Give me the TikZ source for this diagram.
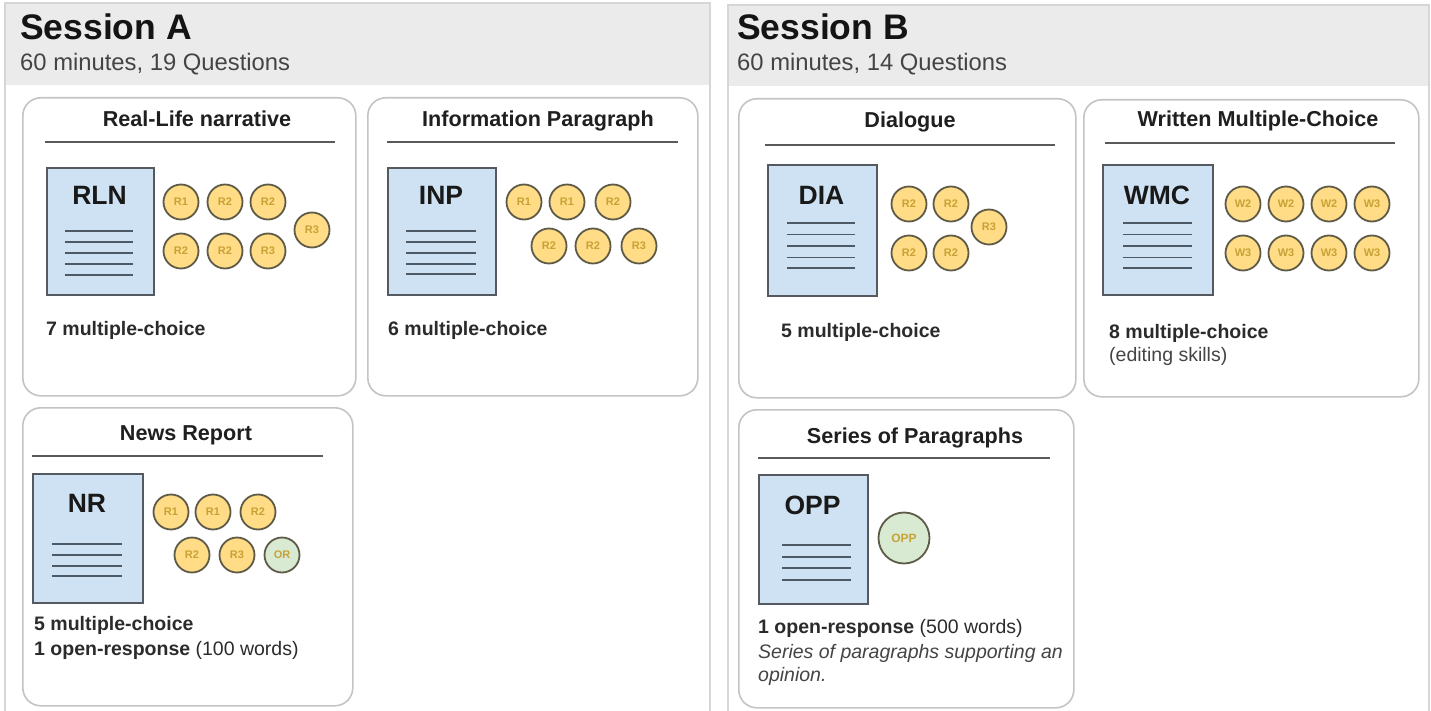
\documentclass[tikz,border=0pt]{standalone}
\usepackage{fontspec}
\setmainfont{Liberation Sans}
\definecolor{panelborder}{HTML}{D6D6D6}
\definecolor{panelhead}{HTML}{EBEBEB}
\definecolor{cardborder}{HTML}{C4C4C4}
\definecolor{docblue}{HTML}{CFE2F3}
\definecolor{docedge}{HTML}{555A60}
\definecolor{docline}{HTML}{4E5966}
\definecolor{qyellow}{HTML}{FFDC85}
\definecolor{qedge}{HTML}{5E5A48}
\definecolor{qtext}{HTML}{C9A235}
\definecolor{qgreen}{HTML}{D9EAD3}
\definecolor{bodytext}{HTML}{2B2B2B}
\definecolor{softtext}{HTML}{444444}
\definecolor{ruleline}{HTML}{5A5A5A}
\begin{document}
\begin{tikzpicture}[x=1pt,y=-1pt,
  panelbox/.style={draw=panelborder,line width=1.5pt,fill=white},
  headband/.style={fill=panelhead,draw=none},
  sesstitle/.style={anchor=base west,inner sep=0,font=\bfseries\fontsize{35.5}{40}\selectfont,text=black!92},
  sesssub/.style={anchor=base west,inner sep=0,font=\fontsize{23.8}{26}\selectfont,text=softtext},
  cardbox/.style={draw=cardborder,line width=1.6pt,rounded corners=18pt,fill=white,anchor=north west,inner sep=0},
  cardtitle/.style={anchor=base,inner sep=0,font=\bfseries\fontsize{21.6}{24}\selectfont,text=black!88},
  titlerule/.style={draw=ruleline,line width=1.8pt},
  docbox/.style={draw=docedge,fill=docblue,line width=1.9pt,anchor=north west,inner sep=0},
  doclabel/.style={anchor=base,inner sep=0,font=\bfseries\fontsize{26.5}{30}\selectfont,text=black!90},
  docrule/.style={draw=docline,line width=1.9pt},
  qc/.style={circle,draw=qedge,fill=qyellow,line width=1.8pt,minimum size=35pt,inner sep=0,font=\bfseries\fontsize{11}{12}\selectfont,text=qtext},
  qg/.style={qc,fill=qgreen},
  bodyline/.style={anchor=base west,inner sep=0,font=\fontsize{19.5}{22}\selectfont,text=bodytext}
]
\useasboundingbox (0,0) rectangle (1431,711);
% ---------- Panels ----------
\draw[panelbox] (5,730) -- (5,3) -- (710,3) -- (710,730);
\fill[headband] (5.75,3.75) rectangle (709.25,85);
\draw[panelbox] (728,730) -- (728,5) -- (1429,5) -- (1429,730);
\fill[headband] (728.75,5.75) rectangle (1428.25,86);
\node[sesstitle] (sa) at (20,40) {Session A};
\node[sesssub] (sasub) at (20,71) {60 minutes, 19 Questions};
\node[sesstitle] (sb) at (737,40) {Session B};
\node[sesssub] (sbsub) at (737,71) {60 minutes, 14 Questions};

% ---------- Card RLN ----------
\node[cardbox,minimum width=333pt,minimum height=298pt] (cRLN) at (22,97) {};
\node[cardtitle] (tRLN) at (197,127) {Real-Life narrative};
\draw[titlerule] (45,142) -- (335,142);
\node[docbox,minimum width=107pt,minimum height=127pt] (dRLN) at (46,167) {};
\node[doclabel] (lRLN) at (99.5,205) {RLN};
\foreach \yy in {231,242,253,264,275} \draw[docrule] (65,\yy) -- (133,\yy);
\node[qc] (rln1) at (181,202) {R1};
\node[qc] (rln2) at (225,202) {R2};
\node[qc] (rln3) at (268,202) {R2};
\node[qc] (rln4) at (181,251) {R2};
\node[qc] (rln5) at (225,251) {R2};
\node[qc] (rln6) at (268,251) {R3};
\node[qc] (rln7) at (312,230) {R3};
\node[bodyline] (bRLN) at (46,335) {\textbf{7 multiple-choice}};

% ---------- Card INP ----------
\node[cardbox,minimum width=330pt,minimum height=298pt] (cINP) at (367,97) {};
\node[cardtitle] (tINP) at (538,127) {Information Paragraph};
\draw[titlerule] (387,142) -- (678,142);
\node[docbox,minimum width=108pt,minimum height=127pt] (dINP) at (387,167) {};
\node[doclabel] (lINP) at (441,205) {INP};
\foreach \yy in {231,242,253,264,274} \draw[docrule] (406,\yy) -- (476,\yy);
\node[qc] (inp1) at (524,202) {R1};
\node[qc] (inp2) at (567,202) {R1};
\node[qc] (inp3) at (613,202) {R2};
\node[qc] (inp4) at (549,246) {R2};
\node[qc] (inp5) at (593,246) {R2};
\node[qc] (inp6) at (639,246) {R3};
\node[bodyline] (bINP) at (388,335) {\textbf{6 multiple-choice}};

% ---------- Card NR ----------
\node[cardbox,minimum width=330pt,minimum height=298pt] (cNR) at (22,407) {};
\node[cardtitle] (tNR) at (186,440) {News Report};
\draw[titlerule] (32,456) -- (323,456);
\node[docbox,minimum width=110pt,minimum height=129pt] (dNR) at (32,473) {};
\node[doclabel] (lNR) at (87,512) {NR};
\foreach \yy in {544,555,566,576} \draw[docrule] (52,\yy) -- (122,\yy);
\node[qc] (nr1) at (171,512) {R1};
\node[qc] (nr2) at (213,512) {R1};
\node[qc] (nr3) at (258,512) {R2};
\node[qc] (nr4) at (192,555) {R2};
\node[qc] (nr5) at (237,555) {R3};
\node[qg] (nr6) at (282,555) {OR};
\node[bodyline] (bNR1) at (34,630) {\textbf{5 multiple-choice}};
\node[bodyline] (bNR2) at (34,655) {\textbf{1 open-response} (100 words)};

% ---------- Card DIA ----------
\node[cardbox,minimum width=337pt,minimum height=299pt] (cDIA) at (738,98) {};
\node[cardtitle] (tDIA) at (910,128) {Dialogue};
\draw[titlerule] (765,145) -- (1055,145);
\node[docbox,minimum width=109pt,minimum height=131pt] (dDIA) at (767,164) {};
\node[doclabel] (lDIA) at (821.5,205) {DIA};
\foreach \yy in {223,234.5,246,257.5,268} \draw[docrule] (787,\yy) -- (855,\yy);
\node[qc] (dia1) at (909,204) {R2};
\node[qc] (dia2) at (951,204) {R2};
\node[qc] (dia3) at (909,253) {R2};
\node[qc] (dia4) at (951,253) {R2};
\node[qc] (dia5) at (989,227) {R3};
\node[bodyline] (bDIA) at (781,337) {\textbf{5 multiple-choice}};

% ---------- Card WMC ----------
\node[cardbox,minimum width=335pt,minimum height=297pt] (cWMC) at (1083,99) {};
\node[cardtitle] (tWMC) at (1258,127) {Written Multiple-Choice};
\draw[titlerule] (1105,143) -- (1395,143);
\node[docbox,minimum width=110pt,minimum height=130pt] (dWMC) at (1102,164) {};
\node[doclabel] (lWMC) at (1157,205) {WMC};
\foreach \yy in {223,234.5,246,257.5,268} \draw[docrule] (1123,\yy) -- (1192,\yy);
\node[qc] (wmc1) at (1243,204) {W2};
\node[qc] (wmc2) at (1286,204) {W2};
\node[qc] (wmc3) at (1329,204) {W2};
\node[qc] (wmc4) at (1372,204) {W3};
\node[qc] (wmc5) at (1243,253) {W3};
\node[qc] (wmc6) at (1286,253) {W3};
\node[qc] (wmc7) at (1329,253) {W3};
\node[qc] (wmc8) at (1372,253) {W3};
\node[bodyline] (bWMC1) at (1109,338) {\textbf{8 multiple-choice}};
\node[bodyline,text=softtext] (bWMC2) at (1109,361) {(editing skills)};

% ---------- Card OPP ----------
\node[cardbox,minimum width=335pt,minimum height=298pt] (cOPP) at (738,409) {};
\node[cardtitle] (tOPP) at (915,443) {Series of Paragraphs};
\draw[titlerule] (758,458) -- (1050,458);
\node[docbox,minimum width=109pt,minimum height=129pt] (dOPP) at (758,474) {};
\node[doclabel] (lOPP) at (812.5,514) {OPP};
\foreach \yy in {545,557,568,580} \draw[docrule] (782,\yy) -- (851,\yy);
\node[qg,minimum size=51pt,font=\bfseries\fontsize{12}{13}\selectfont] (opp1) at (904,538) {OPP};
\node[bodyline] (bOPP1) at (758,633) {\textbf{1 open-response} (500 words)};
\node[bodyline,text=softtext,font=\itshape\fontsize{19.5}{22}\selectfont] (bOPP2) at (758,658) {Series of paragraphs supporting an};
\node[bodyline,text=softtext,font=\itshape\fontsize{19.5}{22}\selectfont] (bOPP3) at (758,681) {opinion.};
\end{tikzpicture}
\end{document}
